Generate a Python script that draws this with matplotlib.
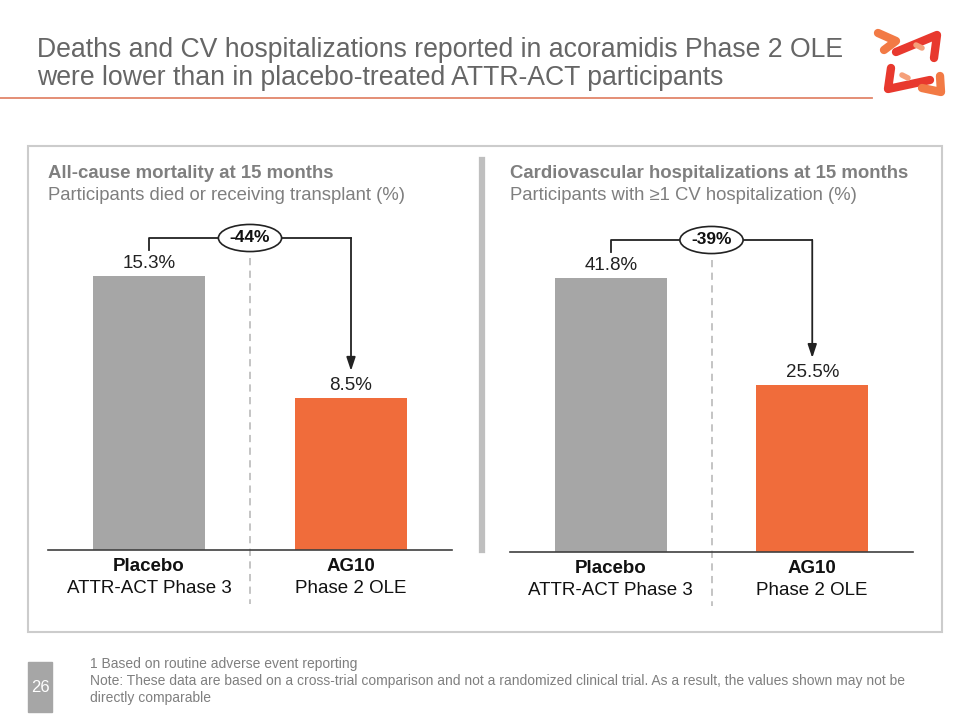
import matplotlib
matplotlib.use("Agg")
import matplotlib.pyplot as plt
import matplotlib.transforms as mtransforms
from matplotlib.patches import Rectangle

plt.rcParams['font.family'] = ['Liberation Sans', 'DejaVu Sans']

#------------------------------------------------------------------#
# Data
#------------------------------------------------------------------#
title_lines = ["Deaths and CV hospitalizations reported in acoramidis Phase 2 OLE",
               "were lower than in placebo-treated ATTR-ACT participants"]
categories = ["Placebo", "AG10"]
sublabels = ["ATTR-ACT Phase 3", "Phase 2 OLE"]
panel_titles = ["All-cause mortality at 15 months",
                "Cardiovascular hospitalizations at 15 months"]
panel_subtitles = ["Participants died or receiving transplant (%)",
                   "Participants with \u22651 CV hospitalization (%)"]
mortality = [15.3, 8.5]
cv_hosp = [41.8, 25.5]
changes = ["-44%", "-39%"]
footnotes = ["1 Based on routine adverse event reporting",
             "Note: These data are based on a cross-trial comparison and not a randomized clinical trial. As a result, the values shown may not be",
             "directly comparable"]
page_no = "26"

gray_bar = '#A6A6A6'
orange_bar = '#F06C3B'
text_gray = '#666666'

W, H = 960, 720
fig = plt.figure(figsize=(9.6, 7.2), dpi=100)

# background overlay in pixel coords
bg = fig.add_axes([0, 0, 1, 1])
bg.set_xlim(0, W)
bg.set_ylim(H, 0)
bg.axis('off')

# title
bg.text(37, 50, title_lines[0], fontsize=19.2, color=text_gray, va='center', ha='left')
bg.text(37, 78, title_lines[1], fontsize=19.2, color=text_gray, va='center', ha='left')
bg.plot([0, 872], [98, 98], color='#E2866A', lw=1.3)

# logo (rough)
bg.plot([878, 896, 884], [33, 41, 50], color='#F27A45', lw=6, solid_capstyle='round', solid_joinstyle='round')
bg.plot([896, 937, 934], [52, 35, 58], color='#E8392E', lw=6, solid_capstyle='round', solid_joinstyle='round')
bg.plot([891, 888, 930], [68, 89, 80], color='#E8392E', lw=6, solid_capstyle='round', solid_joinstyle='round')
bg.plot([922, 941, 940], [88, 92, 76], color='#F27A45', lw=6, solid_capstyle='round', solid_joinstyle='round')
bg.plot([916, 922], [45, 48], color='#F5A07A', lw=4, solid_capstyle='round')
bg.plot([902, 908], [75, 78], color='#F5A07A', lw=4, solid_capstyle='round')

# panel box and divider
bg.add_patch(Rectangle((28, 146), 914, 486, fill=False, ec='#CCCCCC', lw=1.5))
bg.plot([482, 482], [160, 550], color='#BFBFBF', lw=4.5)

# panel titles
for x0, t, s in zip([48, 510], panel_titles, panel_subtitles):
    bg.text(x0, 173, t, fontsize=13.4, fontweight='bold', color='#7F7F7F', va='center')
    bg.text(x0, 196, s, fontsize=13.3, color='#7F7F7F', va='center')

# page number + footnotes
bg.add_patch(Rectangle((28, 662), 24, 50, color='#A6A6A6'))
bg.text(40, 688, page_no, fontsize=12, color='white', ha='center', va='center')
for i, line in enumerate(footnotes):
    bg.text(90, 664 + i * 17, line, fontsize=10, color='#7F7F7F', va='center')

#------------------------------------------------------------------#
# Bar panels
#------------------------------------------------------------------#
def px_axes(x0, x1, base, top):
    return fig.add_axes([x0 / W, (H - base) / H, (x1 - x0) / W, (base - top) / H])

def panel(ax, values, change, px_per_unit):
    ax.set_xlim(-0.5, 1.5)
    ax.set_ylim(0, 320 / px_per_unit)
    ax.bar([0, 1], values, width=0.555, color=[gray_bar, orange_bar], zorder=2)
    for s in ['top', 'right', 'left']:
        ax.spines[s].set_visible(False)
    ax.spines['bottom'].set_color('#404040')
    ax.spines['bottom'].set_linewidth(1.2)
    ax.set_yticks([])
    ax.set_xticks([])
    for i, v in enumerate(values):
        ax.annotate(f"{v}%", (i, v), xytext=(0, 3), textcoords='offset points',
                    ha='center', va='bottom', fontsize=13.5, color='#222222')
        ax.text(i, -0.051, categories[i], transform=ax.get_xaxis_transform(),
                ha='center', va='center', fontsize=13.5, fontweight='bold', color='#111111')
        ax.text(i, -0.12, sublabels[i], transform=ax.get_xaxis_transform(),
                ha='center', va='center', fontsize=13.5, color='#111111')
    bt = ax.get_xaxis_transform()
    # dashed divider
    ax.plot([0.5, 0.5], [0.9125, -0.17], transform=bt, color='#BFBFBF', lw=1.3,
            ls=(0, (4, 3)), clip_on=False, zorder=1)
    # bracket
    ax.plot([0, 0, 1], [0.9375, 0.975, 0.975], transform=bt, color='#222222', lw=1.3, clip_on=False)
    tip = mtransforms.offset_copy(ax.transData, fig=fig, x=0, y=27, units='dots')
    ax.annotate('', xy=(1, values[1]), xycoords=tip, xytext=(1, 0.975), textcoords=bt,
                arrowprops=dict(arrowstyle='-|>,head_length=0.9,head_width=0.3', color='#222222',
                                lw=1.3, mutation_scale=9, shrinkA=0, shrinkB=0))
    ax.text(0.5, 0.975, change, transform=bt, ha='center', va='center', fontsize=12.5,
            fontweight='bold', color='#111111', zorder=5,
            bbox=dict(boxstyle='ellipse,pad=0.12', fc='white', ec='#222222', lw=1.2))

ax1 = px_axes(48, 452, 550, 230)
panel(ax1, mortality, changes[0], 17.9)
ax2 = px_axes(510, 913, 552, 232)
panel(ax2, cv_hosp, changes[1], 6.55)

fig.savefig('out.png', dpi=100, facecolor='white')
